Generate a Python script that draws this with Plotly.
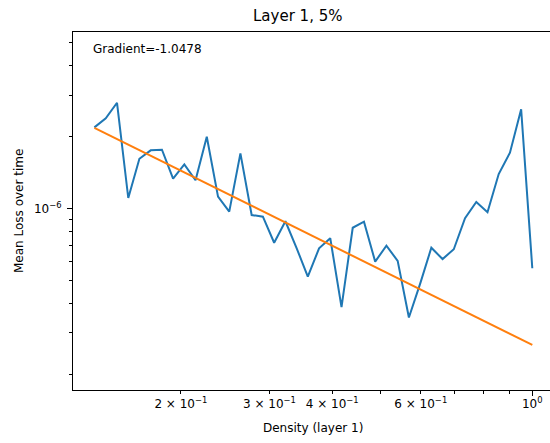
import numpy as np
import plotly.graph_objects as go

# Layer density values (log spaced) and mean loss recorded at each
density = [0.1346, 0.1418, 0.1493, 0.1572, 0.1654, 0.1742, 0.1834, 0.1930,
           0.2032, 0.2139, 0.2252, 0.2371, 0.2496, 0.2627, 0.2766, 0.2912,
           0.3066, 0.3228, 0.3398, 0.3577, 0.3766, 0.3964, 0.4174, 0.4394,
           0.4626, 0.4870, 0.5127, 0.5398, 0.5683, 0.5982, 0.6298, 0.6630,
           0.6980, 0.7349, 0.7737, 0.8145, 0.8574, 0.9027, 0.9502, 1.0000]

mean_loss = [2.193e-6, 2.393e-6, 2.783e-6, 1.107e-6, 1.619e-6, 1.756e-6,
             1.766e-6, 1.334e-6, 1.533e-6, 1.314e-6, 2.003e-6, 1.121e-6,
             0.970e-6, 1.706e-6, 0.939e-6, 0.924e-6, 0.718e-6, 0.884e-6,
             0.682e-6, 0.517e-6, 0.680e-6, 0.750e-6, 0.385e-6, 0.830e-6,
             0.880e-6, 0.598e-6, 0.698e-6, 0.602e-6, 0.348e-6, 0.482e-6,
             0.684e-6, 0.613e-6, 0.674e-6, 0.910e-6, 1.065e-6, 0.964e-6,
             1.396e-6, 1.716e-6, 2.611e-6, 0.561e-6]

# Power-law fit: log10(loss) = INTERCEPT + GRADIENT * log10(density)
GRADIENT = -1.0478
INTERCEPT = -6.5735

x_tick_vals = [0.2, 0.3, 0.4, 0.5, 0.6, 0.7, 0.8, 0.9, 1.0]
x_tick_text = ["2 × 10<sup>\u22121</sup>", "3 × 10<sup>\u22121</sup>",
               "4 × 10<sup>\u22121</sup>", "",
               "6 × 10<sup>\u22121</sup>", "", "", "", "10<sup>0</sup>"]
y_major_vals = [1e-6]
y_major_text = ["10<sup>\u22126</sup>"]
y_minor_vals = [2e-7, 3e-7, 4e-7, 5e-7, 6e-7, 7e-7, 8e-7, 9e-7,
                2e-6, 3e-6, 4e-6, 5e-6]

d = np.array(density)
fit = 10 ** (INTERCEPT + GRADIENT * np.log10(d))

FONT = "DejaVu Sans"
W, H = 550, 443
L, R, T, B = 73, 0, 32, 53
pw, ph = W - L - R, H - T - B

fig = go.Figure()
fig.add_trace(go.Scatter(x=density, y=mean_loss, mode="lines",
                         line=dict(color="#1f77b4", width=2)))
fig.add_trace(go.Scatter(x=density, y=fit, mode="lines",
                         line=dict(color="#ff7f0e", width=2)))

fig.update_layout(
    width=W, height=H,
    margin=dict(l=L, r=R, t=T, b=B, pad=0),
    paper_bgcolor="white", plot_bgcolor="white",
    showlegend=False,
    font=dict(family=FONT, size=12, color="black"),
    xaxis=dict(
        type="log", range=[-0.9135, 0.0352],
        showgrid=False, zeroline=False,
        showline=True, linecolor="black", linewidth=1, mirror=True,
        ticks="outside", ticklen=3, tickwidth=1, tickcolor="black",
        tickvals=x_tick_vals, ticktext=x_tick_text,
        tickfont=dict(family=FONT, size=12, color="black"),
        minor=dict(tickvals=[1.0], ticklen=5, tickwidth=1,
                   tickcolor="black", ticks="outside", showgrid=False),
    ),
    yaxis=dict(
        type="log", range=[-6.763, -5.258],
        showgrid=False, zeroline=False,
        showline=True, linecolor="black", linewidth=1, mirror=False,
        ticks="outside", ticklen=5, tickwidth=1, tickcolor="black",
        tickvals=y_major_vals, ticktext=y_major_text,
        ticklabelstandoff=3,
        tickfont=dict(family=FONT, size=12, color="black"),
        minor=dict(tickvals=y_minor_vals, ticklen=3, tickwidth=1,
                   tickcolor="black", ticks="outside", showgrid=False),
    ),
    annotations=[
        dict(text="Layer 1, 5%", xref="paper", yref="paper",
             x=(297 - L) / pw, y=(H - B - 16) / ph,
             xanchor="center", yanchor="middle", showarrow=False,
             font=dict(family=FONT, size=15, color="black")),
        dict(text=f"Gradient={GRADIENT}", xref="paper", yref="paper",
             x=(91 - L) / pw, y=(H - B - 49) / ph,
             xanchor="left", yanchor="middle", showarrow=False,
             font=dict(family=FONT, size=12, color="black")),
        dict(text="Density (layer 1)", xref="paper", yref="paper",
             x=(313 - L) / pw, y=(H - B - 428) / ph,
             xanchor="center", yanchor="middle", showarrow=False,
             font=dict(family=FONT, size=12, color="black")),
        dict(text="Mean Loss over time", xref="paper", yref="paper",
             x=(19 - L) / pw, y=0.5, textangle=-90,
             xanchor="center", yanchor="middle", showarrow=False,
             font=dict(family=FONT, size=12, color="black")),
    ],
)

fig.write_html("out.html")
